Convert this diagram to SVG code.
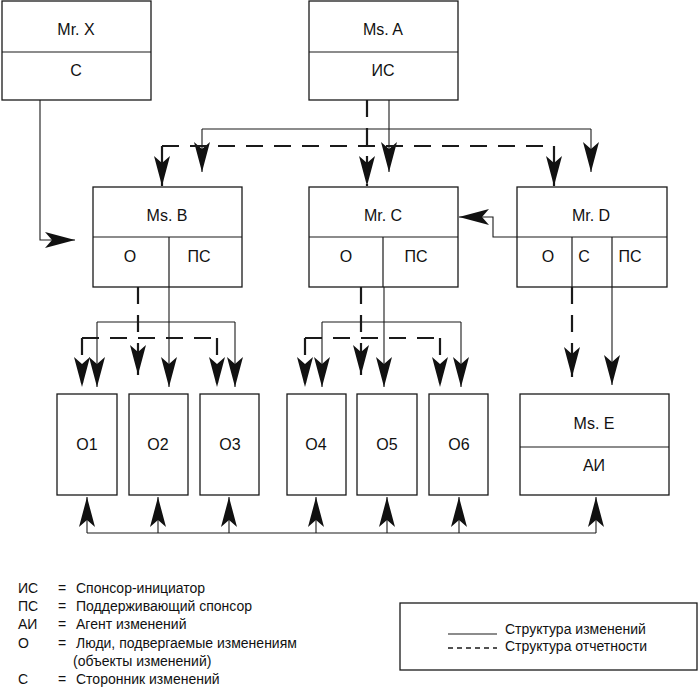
<svg xmlns="http://www.w3.org/2000/svg" width="700" height="694" viewBox="0 0 700 694">
<style>
.box{fill:#fff;stroke:#1a1a1a;stroke-width:1.3}
.div{stroke:#1a1a1a;stroke-width:1.2;fill:none}
.t{font-family:"Liberation Sans",Arial,sans-serif;font-size:16px;fill:#111;text-anchor:middle}
.s{stroke:#1a1a1a;stroke-width:1.1;fill:none}
.d{stroke:#1a1a1a;stroke-width:2.2;fill:none;stroke-dasharray:17 11}
.ah{marker-end:url(#ah)}
.lg{font-family:"Liberation Sans",Arial,sans-serif;font-size:14px;fill:#111}
</style>
<defs>
<marker id="ah" markerUnits="userSpaceOnUse" markerWidth="32" markerHeight="20" refX="30" refY="10" orient="auto" overflow="visible">
<path d="M30,10 L0,2 L7,10 L0,18 Z" fill="#111" stroke="none"/>
</marker>
</defs>
<rect width="700" height="694" fill="#fff"/>

<g id="connectors">
<polyline class="s ah" points="40,100 40,240 75,240"/>
<line class="s ah" x1="389" y1="100" x2="389" y2="172"/>
<line class="s" x1="202" y1="129" x2="591" y2="129"/>
<line class="s ah" x1="202" y1="129" x2="202" y2="172"/>
<line class="s ah" x1="591" y1="129" x2="591" y2="172"/>
<polyline class="s ah" points="517,237 493,237 493,217 459,217"/>
<line class="s ah" x1="169" y1="287" x2="169" y2="387"/>
<line class="s" x1="97" y1="322" x2="235" y2="322"/>
<line class="s ah" x1="97" y1="322" x2="97" y2="387"/>
<line class="s ah" x1="235" y1="322" x2="235" y2="387"/>
<line class="s ah" x1="384" y1="287" x2="384" y2="387"/>
<line class="s" x1="322" y1="322" x2="461" y2="322"/>
<line class="s ah" x1="322" y1="322" x2="322" y2="387"/>
<line class="s ah" x1="461" y1="322" x2="461" y2="387"/>
<line class="s ah" x1="612" y1="287" x2="612" y2="385"/>
<line class="s" x1="87" y1="533" x2="596" y2="533"/>
<line class="s ah" x1="87" y1="533" x2="87" y2="497"/>
<line class="s ah" x1="158" y1="533" x2="158" y2="497"/>
<line class="s ah" x1="229" y1="533" x2="229" y2="497"/>
<line class="s ah" x1="316" y1="533" x2="316" y2="497"/>
<line class="s ah" x1="387" y1="533" x2="387" y2="497"/>
<line class="s ah" x1="459" y1="533" x2="459" y2="497"/>
<line class="s ah" x1="596" y1="533" x2="596" y2="497"/>

<line class="d ah" x1="367" y1="100" x2="367" y2="186"/>
<line class="d" x1="162" y1="146" x2="554" y2="146"/>
<line class="d ah" x1="162" y1="146" x2="162" y2="186"/>
<line class="d ah" x1="554" y1="146" x2="554" y2="186"/>
<line class="d ah" x1="138" y1="287" x2="138" y2="375"/>
<line class="d" x1="82" y1="338" x2="217" y2="338"/>
<line class="d ah" x1="82" y1="338" x2="82" y2="387"/>
<line class="d ah" x1="217" y1="338" x2="217" y2="387"/>
<line class="d ah" x1="361" y1="287" x2="361" y2="375"/>
<line class="d" x1="305" y1="338" x2="440" y2="338"/>
<line class="d ah" x1="305" y1="338" x2="305" y2="387"/>
<line class="d ah" x1="440" y1="338" x2="440" y2="387"/>
<line class="d ah" x1="572" y1="287" x2="572" y2="377"/>
</g>

<g id="mrX">
<rect class="box" x="2" y="1" width="149" height="99"/>
<line class="div" x1="2" y1="52" x2="151" y2="52"/>
<text class="t" x="76" y="35">Mr. X</text>
<text class="t" x="76" y="76">С</text>
</g>
<g id="msA">
<rect class="box" x="309" y="1" width="149" height="99"/>
<line class="div" x1="309" y1="52" x2="458" y2="52"/>
<text class="t" x="383" y="35">Ms. A</text>
<text class="t" x="383" y="76">ИС</text>
</g>
<g id="msB">
<rect class="box" x="93" y="187" width="149" height="100"/>
<line class="div" x1="93" y1="237" x2="242" y2="237"/>
<line class="div" x1="169" y1="237" x2="169" y2="287"/>
<text class="t" x="167" y="221">Ms. B</text>
<text class="t" x="130" y="262">О</text>
<text class="t" x="199" y="262">ПС</text>
</g>
<g id="mrC">
<rect class="box" x="309" y="187" width="149" height="100"/>
<line class="div" x1="309" y1="237" x2="458" y2="237"/>
<line class="div" x1="383" y1="237" x2="383" y2="287"/>
<text class="t" x="383" y="221">Mr. C</text>
<text class="t" x="346" y="262">О</text>
<text class="t" x="416" y="262">ПС</text>
</g>
<g id="mrD">
<rect class="box" x="517" y="187" width="150" height="100"/>
<line class="div" x1="517" y1="237" x2="667" y2="237"/>
<line class="div" x1="572" y1="237" x2="572" y2="287"/>
<line class="div" x1="612" y1="237" x2="612" y2="287"/>
<text class="t" x="591" y="221">Mr. D</text>
<text class="t" x="548" y="262">О</text>
<text class="t" x="584" y="262">С</text>
<text class="t" x="630" y="262">ПС</text>
</g>
<g id="o1"><rect class="box" x="57" y="394" width="60" height="101"/><text class="t" x="87" y="450">О1</text></g>
<g id="o2"><rect class="box" x="129" y="394" width="59" height="101"/><text class="t" x="158" y="450">О2</text></g>
<g id="o3"><rect class="box" x="200" y="394" width="59" height="101"/><text class="t" x="230" y="450">О3</text></g>
<g id="o4"><rect class="box" x="287" y="394" width="59" height="101"/><text class="t" x="316" y="450">О4</text></g>
<g id="o5"><rect class="box" x="357" y="394" width="60" height="101"/><text class="t" x="387" y="450">О5</text></g>
<g id="o6"><rect class="box" x="429" y="394" width="59" height="101"/><text class="t" x="459" y="450">О6</text></g>
<g id="msE">
<rect class="box" x="520" y="394" width="149" height="101"/>
<line class="div" x1="520" y1="447" x2="669" y2="447"/>
<text class="t" x="594" y="429">Ms. E</text>
<text class="t" x="594" y="471">АИ</text>
</g>

<g id="legend-abbr">
<text class="lg" x="18" y="593">ИС</text><text class="lg" x="58" y="593">=</text><text class="lg" x="76" y="593">Спонсор-инициатор</text>
<text class="lg" x="18" y="611">ПС</text><text class="lg" x="58" y="611">=</text><text class="lg" x="76" y="611">Поддерживающий спонсор</text>
<text class="lg" x="18" y="629">АИ</text><text class="lg" x="58" y="629">=</text><text class="lg" x="76" y="629">Агент изменений</text>
<text class="lg" x="18" y="648">О</text><text class="lg" x="58" y="648">=</text><text class="lg" x="76" y="648">Люди, подвергаемые изменениям</text>
<text class="lg" x="73" y="666">(объекты изменений)</text>
<text class="lg" x="18" y="684">С</text><text class="lg" x="58" y="684">=</text><text class="lg" x="76" y="684">Сторонник изменений</text>
</g>
<g id="legend-lines">
<rect x="400" y="603" width="297" height="67" fill="none" stroke="#1a1a1a" stroke-width="1.3"/>
<line x1="448" y1="634" x2="497" y2="634" stroke="#1a1a1a" stroke-width="1.1"/>
<line x1="448" y1="648" x2="497" y2="648" stroke="#1a1a1a" stroke-width="1.6" stroke-dasharray="5 4"/>
<text class="lg" x="505" y="634">Структура изменений</text>
<text class="lg" x="505" y="651">Структура отчетности</text>
</g>
</svg>
